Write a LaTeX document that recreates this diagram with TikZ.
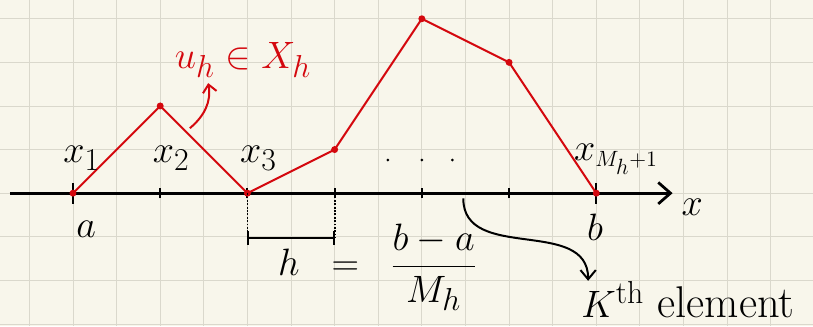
\documentclass[tikz,border=0pt]{standalone}
\usetikzlibrary{arrows.meta}
\definecolor{paper}{RGB}{248,246,235}
\definecolor{gridline}{RGB}{218,216,204}
\definecolor{pen}{RGB}{212,8,14}
\begin{document}
\begin{tikzpicture}[font=\fontsize{29}{34}\selectfont]
    \fill[paper] (-1.674,-3.05) rectangle (16.97,4.43);
    \useasboundingbox (-1.674,-3.05) rectangle (16.97,4.43);
    \draw[gridline, line width=0.6pt] (-1.674,-3.05) grid (16.97,4.43);
    % x axis
    \coordinate (xl) at (-1.45,0);
    \coordinate (xr) at (13.75,0);
    \draw[line width=1.8pt, -{Straight Barb[length=8pt,width=14pt]}] (xl) -- (xr);
    \node (xlab) at (14.2,-0.32) {$x$};
    \foreach \t in {2,4,...,10}
    \draw[line width=1.3pt] (\t,-0.12) -- (\t,0.12);
    \foreach \t in {0,12}
    \draw[line width=1.3pt] (\t,-0.24) -- (\t,0.24);
    \node (a) at (0.3,-0.82) {$a$};
    \node (b) at (11.97,-0.78) {$b$};
    % piecewise linear function
    \coordinate (p0) at (0,0);
    \coordinate (p1) at (2,2);
    \coordinate (p2) at (4,0);
    \coordinate (p3) at (6,1);
    \coordinate (p4) at (8,4);
    \coordinate (p5) at (10,3);
    \coordinate (p6) at (12,0);
    \draw[pen, line width=1.3pt] (p0) -- (p1) -- (p2) -- (p3) -- (p4) -- (p5) -- (p6);
    \foreach \i in {0,...,6}
    \fill[pen] (p\i) circle (0.08);
    % nodes
    \node (x1) at (0.2,0.8) {$x_1$};
    \node (x2) at (2.25,0.8) {$x_2$};
    \node (x3) at (4.25,0.8) {$x_3$};
    \node (xM) at (12.45,0.78) {$x_{\scriptscriptstyle M_h+1}$};
    \foreach \d in {7.22,8,8.7}
    \fill (\d,0.76) circle (0.035);
    % u_h
    \node[pen] (uh) at (3.9,3.05) {$u_h \in X_h$};
    \coordinate (ua) at (2.68,1.49);
    \coordinate (utip) at ([xshift=-0.8cm]uh.south);
    \draw[pen, line width=1.3pt, -{Straight Barb[length=5pt,width=9pt]}] (ua) to[out=40, in=-80] (utip);
    % mesh size
    \coordinate (t6) at (6,0);
    \coordinate (h0) at (4,-1.03);
    \coordinate (h1) at (6,-1.03);
    \draw[densely dotted, line width=1.2pt] (p2) -- (h0);
    \draw[densely dotted, line width=1.2pt] (t6) -- (h1);
    \draw[line width=1.3pt, {Bar[width=9pt]}-{Bar[width=9pt]}] (h0) -- (h1);
    \node (hform) at (6.98,-1.7) {$h \;\; = \;\; \displaystyle\frac{b-a}{M_h}$};
    % k-th element
    \node (kel) at (14.1,-2.45) {$K^{\mathrm{th}}$ element};
    \coordinate (ks) at (8.95,-0.12);
    \coordinate (ktip) at ([xshift=0.28cm,yshift=-0.1cm]kel.north west);
    \draw[line width=1.3pt, -{Straight Barb[length=6pt,width=10pt]}] (ks) to[out=-90, in=90, looseness=1.1] (ktip);
\end{tikzpicture}
\end{document}
